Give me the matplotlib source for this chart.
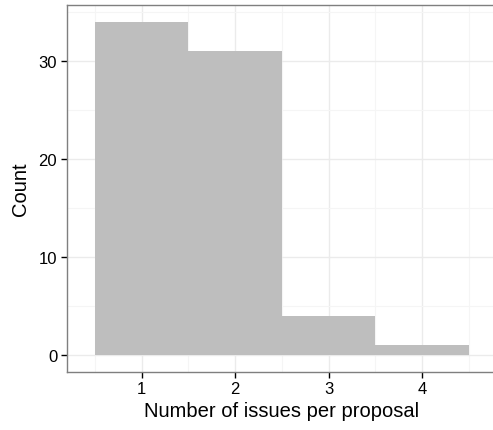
import matplotlib
matplotlib.use("Agg")
import matplotlib.pyplot as plt

plt.rcParams['font.family'] = ['Liberation Sans', 'DejaVu Sans']

issues = [1, 2, 3, 4]
counts = [34, 31, 4, 1]

W, H = 493, 431
fig = plt.figure(figsize=(W / 100, H / 100), dpi=100)
# panel runs a little past the right edge, as in the reference
left, right, top, bottom = 66.9, 497.0, 6.3, 372.7
ax = fig.add_axes([left / W, 1 - bottom / H, (right - left) / W, (bottom - top) / H])

ax.bar(issues, counts, width=1.0, color='#bebebe', linewidth=0, zorder=2)

ax.set_xlim(0.2, 4.8)
ax.set_ylim(-1.7, 35.7)
ax.set_xticks(issues)
ax.set_yticks([0, 10, 20, 30])
ax.set_xticks([0.5, 1.5, 2.5, 3.5, 4.5], minor=True)
ax.set_yticks([5, 15, 25, 35], minor=True)

ax.grid(True, which='major', color='#ebebeb', linewidth=1.0, zorder=0)
ax.grid(True, which='minor', color='#f5f5f5', linewidth=0.8, zorder=0)
ax.set_axisbelow(True)

for s in ax.spines.values():
    s.set_color('#7f7f7f')
    s.set_linewidth(1.0)
ax.spines['right'].set_visible(False)

ax.tick_params(which='major', direction='out', length=4.5, width=1, color='black',
               labelsize=12, labelcolor='black', pad=2.5)
ax.tick_params(which='minor', length=0)

ax.set_xlabel('Number of issues per proposal', fontsize=14.5, labelpad=3)
ax.set_ylabel('Count', fontsize=14.5, labelpad=6)

fig.savefig('out.png', dpi=100)
